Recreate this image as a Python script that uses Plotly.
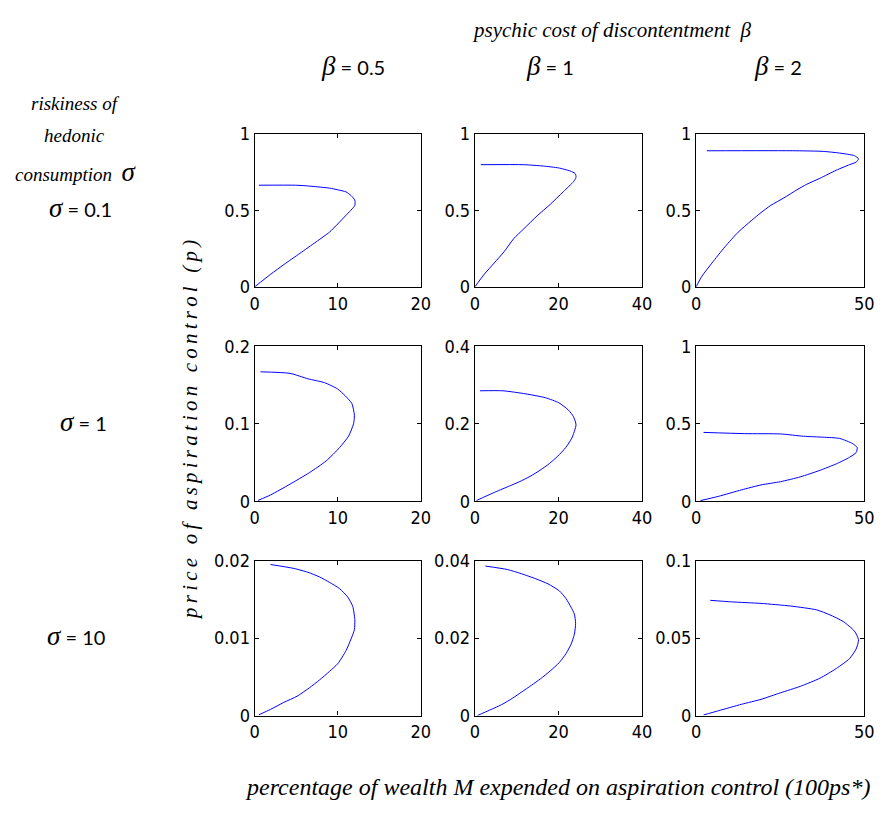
import plotly.graph_objects as go

# ---------------- data ----------------
# row 1: sigma = 0.1
x_r1c1 = [0, 1.9, 3.5, 5.45, 7.4, 9.0, 10.0, 11.0, 12.05, 12.05, 11.6, 11.0, 10.0, 9.0, 7.6, 6.2, 4.9, 0.5]
y_r1c1 = [0, 0.081, 0.145, 0.219, 0.294, 0.357, 0.411, 0.468, 0.532, 0.566, 0.596, 0.62, 0.634, 0.645, 0.653, 0.66, 0.664, 0.664]
x_r1c2 = [0, 2.2, 4.6, 7.0, 9.3, 11.7, 14.9, 18.0, 21.2, 23.6, 24.2, 24.0, 22.8, 20.0, 16.4, 11.7, 1.4]
y_r1c2 = [0, 0.081, 0.155, 0.23, 0.315, 0.379, 0.464, 0.538, 0.623, 0.687, 0.715, 0.74, 0.757, 0.777, 0.789, 0.798, 0.798]
x_r1c3 = [0, 1.75, 4.7, 8.6, 12.5, 16.4, 19.3, 22.2, 26.1, 30.0, 32.9, 36.8, 41.7, 45.6, 47.6, 48.3, 47.1, 42.7, 37.8, 30.0, 3.2]
y_r1c3 = [0, 0.07, 0.155, 0.262, 0.357, 0.432, 0.485, 0.532, 0.581, 0.634, 0.67, 0.709, 0.762, 0.798, 0.815, 0.836, 0.857, 0.874, 0.885, 0.889, 0.889]
# row 2: sigma = 1
x_r2c1 = [0.4, 1.9, 4.25, 6.6, 8.6, 10.2, 11.3, 11.9, 12.0, 11.7, 10.9, 9.96, 8.4, 6.4, 4.25, 0.7]
y_r2c1 = [0.001, 0.008, 0.022, 0.037, 0.052, 0.069, 0.084, 0.1, 0.111, 0.126, 0.136, 0.145, 0.153, 0.158, 0.165, 0.167]
x_r2c2 = [0.4, 4.3, 8.0, 10.6, 13.2, 15.6, 17.8, 19.8, 21.7, 23.2, 24.2, 23.6, 22.4, 20.1, 16.9, 12.2, 6.7, 1.2]
y_r2c2 = [0.002, 0.021, 0.038, 0.05, 0.064, 0.08, 0.097, 0.116, 0.138, 0.163, 0.197, 0.218, 0.235, 0.254, 0.267, 0.277, 0.285, 0.285]
x_r2c3 = [1.3, 6.6, 13.5, 19.3, 25.1, 31.0, 36.8, 41.7, 45.6, 47.6, 47.9, 46.6, 42.7, 37.8, 32.0, 25.1, 14.4, 2.2]
y_r2c3 = [0.004, 0.031, 0.073, 0.105, 0.126, 0.157, 0.199, 0.241, 0.283, 0.314, 0.346, 0.371, 0.405, 0.413, 0.419, 0.434, 0.436, 0.444]
# row 3: sigma = 10
x_r3c1 = [0.5, 1.9, 3.5, 5.1, 6.6, 7.8, 9.0, 10.0, 11.0, 11.6, 12.0, 12.05, 11.8, 11.2, 10.2, 9.0, 7.8, 6.4, 4.7, 1.9]
y_r3c1 = [0.0001, 0.0008, 0.0017, 0.0025, 0.0036, 0.0046, 0.0057, 0.0067, 0.0084, 0.0099, 0.0111, 0.0124, 0.0141, 0.0153, 0.0164, 0.0172, 0.0179, 0.0185, 0.019, 0.0195]
x_r3c2 = [0.56, 3.5, 6.7, 9.0, 11.2, 13.5, 15.7, 18.0, 20.2, 21.8, 23, 23.8, 24.1, 23.8, 23, 21.8, 20.2, 17.5, 14.6, 11.2, 7.8, 2.5]
y_r3c2 = [0, 0.0014, 0.003, 0.0045, 0.0061, 0.0078, 0.0095, 0.0115, 0.0137, 0.016, 0.0184, 0.021, 0.0238, 0.0262, 0.028, 0.0302, 0.0322, 0.034, 0.0353, 0.0366, 0.0377, 0.0386]
x_r3c3 = [2.2, 6.6, 13.5, 19.3, 25.1, 31.0, 36.8, 41.7, 45.6, 47.6, 48.3, 47.1, 43.7, 39.8, 35.9, 28.1, 19.3, 10.5, 4.2]
y_r3c3 = [0.0004, 0.0031, 0.0073, 0.0105, 0.0147, 0.0189, 0.0241, 0.0304, 0.0367, 0.043, 0.0489, 0.0545, 0.0608, 0.065, 0.0682, 0.0707, 0.0724, 0.0734, 0.0744]

curves = [[(x_r1c1, y_r1c1), (x_r1c2, y_r1c2), (x_r1c3, y_r1c3)],
          [(x_r2c1, y_r2c1), (x_r2c2, y_r2c2), (x_r2c3, y_r2c3)],
          [(x_r3c1, y_r3c1), (x_r3c2, y_r3c2), (x_r3c3, y_r3c3)]]

x_max = [20, 40, 50]
x_ticks = [[0, 10, 20], [0, 20, 40], [0, 50]]
y_max = [[1, 1, 1], [0.2, 0.4, 1], [0.02, 0.04, 0.1]]
y_ticks = [[[0, 0.5, 1], [0, 0.5, 1], [0, 0.5, 1]],
           [[0, 0.1, 0.2], [0, 0.2, 0.4], [0, 0.5, 1]],
           [[0, 0.01, 0.02], [0, 0.02, 0.04], [0, 0.05, 0.1]]]

beta_labels = ["0.5", "1", "2"]
sigma_labels = ["0.1", "1", "10"]

# ---------------- layout ----------------
W, H = 887, 825
col_px = [(254, 423), (478, 648), (703, 874)]
row_px = [(126, 283), (344, 503), (564, 723)]

TICKFONT = dict(family="DejaVu Sans Condensed", size=18, color="black")
SERIF = "Liberation Serif"
SANS = "Lato"

fig = go.Figure()
layout = {}
k = 0
for r in range(3):
    for c in range(3):
        k += 1
        xa = "xaxis" if k == 1 else f"xaxis{k}"
        ya = "yaxis" if k == 1 else f"yaxis{k}"
        xs, ys = curves[r][c]
        fig.add_trace(go.Scatter(x=xs, y=ys, mode="lines",
                                 line=dict(color="#0000ff", width=1, shape="spline", smoothing=0.6),
                                 xaxis=xa.replace("axis", ""), yaxis=ya.replace("axis", ""),
                                 showlegend=False, hoverinfo="skip"))
        x0, x1 = col_px[c]
        y0, y1 = row_px[r]
        common = dict(showline=True, linecolor="black", linewidth=1.3, mirror="ticks",
                      ticks="inside", ticklen=4, tickcolor="black", tickwidth=1,
                      showgrid=False, zeroline=False, tickfont=TICKFONT)
        layout[xa] = dict(domain=[x0 / W, x1 / W], range=[0, x_max[c]],
                          tickvals=x_ticks[c], ticktext=[str(v) for v in x_ticks[c]],
                          anchor=ya.replace("axis", ""), **common)
        layout[ya] = dict(domain=[1 - y1 / H, 1 - y0 / H], range=[0, y_max[r][c]],
                          tickvals=y_ticks[r][c], ticktext=[f"{v:g}" for v in y_ticks[r][c]],
                          anchor=xa.replace("axis", ""), **common)

fig.update_layout(width=W, height=H, margin=dict(l=0, r=0, t=0, b=0),
                  paper_bgcolor="white", plot_bgcolor="white", **layout)


def ann(text, x, y, size, family, angle=0, xanchor="center"):
    fig.add_annotation(text=text, x=x / W, y=1 - y / H, xref="paper", yref="paper",
                       showarrow=False, xanchor=xanchor, yanchor="middle", textangle=angle,
                       font=dict(family=family, size=size, color="black"))


greek = "font-family:Liberation Serif;font-size:27px"

ann("<i>psychic cost of discontentment  β</i>", 617, 20, 21, SERIF)
beta_x = [354, 554, 786]
for bx, bl in zip(beta_x, beta_labels):
    ann(f"<span style='{greek}'><i>β</i></span> = {bl}", bx, 56, 20, SANS)

ann("<i>riskiness of</i>", 72, 95, 19, SERIF)
ann("<i>hedonic</i>", 71, 128, 19, SERIF)
ann(f"<i>consumption</i>  <span style='{greek}'><i>σ</i></span>", 72, 165, 19, SERIF)
sigma_pos = [(77, 202), (80, 422), (72, 641)]
for (sx, sy), sl in zip(sigma_pos, sigma_labels):
    ann(f"<span style='{greek}'><i>σ</i></span> = {sl}", sx, sy, 20, SANS)

ytitle = "\u2009".join("price of aspiration control (p)")
ann(f"<i>{ytitle}</i>", 188, 430, 21, SERIF, angle=-90)
ann("<i>percentage of wealth M expended on aspiration control (100ps*)</i>", 562, 796, 24, SERIF)

fig.write_html("out.html")
